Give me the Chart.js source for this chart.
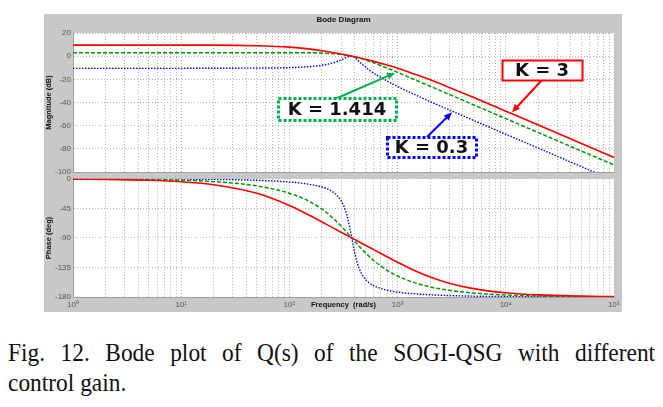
<!DOCTYPE html>
<html>
<head>
<meta charset="utf-8">
<script src="https://cdn.jsdelivr.net/npm/chart.js@4.4.1/dist/chart.umd.min.js"></script>
<style>
body{margin:0;background:#fff;width:663px;height:407px;overflow:hidden;}
#wrap{position:relative;width:663px;height:407px;}
#panel{position:absolute;left:44px;top:14px;width:578px;height:298px;background:#c8c8c8;}
#mag{position:absolute;left:0;top:0;}
#phase{position:absolute;left:0;top:172px;}
.cap{position:absolute;left:8px;width:719px;font-family:"Liberation Serif",serif;font-size:26px;line-height:30px;color:#111;transform:scaleX(0.9);transform-origin:left top;}
#cap1{top:338px;text-align:justify;text-align-last:justify;}
#cap2{top:368px;}
</style>
</head>
<body>
<div id="wrap">
  <div id="panel"></div>
  <canvas id="mag" width="663" height="180"></canvas>
  <canvas id="phase" width="663" height="146"></canvas>
  <div id="cap1" class="cap">Fig. 12. Bode plot of Q(s) of the SOGI-QSG with different</div>
  <div id="cap2" class="cap">control gain.</div>
</div>
<script>
// frequency (rad/s) and readings per control gain
const freq = [1, 2, 5, 10, 20, 50, 100, 150, 200, 250, 300, 320, 340, 360, 377, 395, 420, 440, 480, 540, 600, 800, 1000, 1500, 2000, 3000, 5000, 10000, 20000, 50000, 100000];

const gains = ["K = 3", "K = 1.414", "K = 0.3"];

const magK3 = [9.5, 9.5, 9.5, 9.5, 9.5, 9.0, 7.8, 6.3, 4.7, 3.2, 1.9, 1.4, 0.9, 0.4, 0, -0.4, -1.0, -1.4, -2.2, -3.4, -4.5, -7.7, -10.4, -16.1, -20.4, -27.0, -35.5, -47.5, -59.5, -75.4, -87.4];
const magK1414 = [3.0, 3.0, 3.0, 3.0, 3.0, 3.0, 3.0, 2.9, 2.7, 2.2, 1.5, 1.2, 0.8, 0.4, 0, -0.4, -1.0, -1.5, -2.6, -4.2, -5.7, -10.3, -14.0, -21.0, -26.0, -33.0, -41.9, -53.9, -66.0, -81.9, -93.9];
const magK03 = [-10.5, -10.5, -10.5, -10.5, -10.4, -10.3, -9.9, -9.1, -7.8, -5.9, -3.3, -2.0, -0.8, 0.0, 0.0, -0.8, -2.8, -4.5, -7.7, -11.6, -14.6, -21.5, -26.2, -33.9, -39.2, -46.4, -55.3, -67.4, -79.4, -95.4, -107.4];

const phK3 = [-0.5, -0.9, -2.3, -4.6, -9.1, -22.1, -40.6, -54.8, -65.7, -74.3, -81.3, -83.7, -86.1, -88.2, -90, -91.8, -94.1, -95.9, -99.2, -103.8, -107.8, -118.8, -127.2, -141.2, -149.6, -159.0, -167.2, -173.5, -176.8, -178.7, -179.4];
const phK1414 = [-0.2, -0.4, -1.1, -2.2, -4.3, -10.8, -22.0, -33.8, -46.2, -59.1, -72.0, -76.9, -81.7, -86.3, -90, -93.8, -98.7, -102.4, -109.0, -117.4, -124.3, -139.4, -148.1, -159.2, -164.6, -169.8, -173.9, -176.9, -178.5, -179.4, -179.7];
const phK03 = [-0.1, -0.1, -0.2, -0.5, -0.9, -2.3, -4.9, -8.1, -12.5, -19.6, -33.1, -42.3, -55.4, -72.9, -90, -107.3, -125.8, -136.0, -148.4, -157.8, -162.7, -169.7, -172.5, -175.4, -176.6, -177.8, -178.7, -179.4, -179.7, -179.9, -179.9];

const decades = [1, 10, 100, 1000, 10000, 100000];
const decadeLabels = ["10\u2070", "10\u00b9", "10\u00b2", "10\u00b3", "10\u2074", "10\u2075"];

const RED = "#ff0000", GREEN = "#009a00", BLUE = "#0000ff";
const FONT = "'Liberation Sans', Arial, sans-serif";

function series(vals, color, dash, width){
    return {
        data: freq.map((f, i) => ({x: f, y: vals[i]})),
        borderColor: color,
        borderWidth: width,
        borderDash: dash,
        pointRadius: 0,
        fill: false,
        cubicInterpolationMode: "monotone"
    };
}

function xAxis(showLabels){
    return {
        type: "logarithmic",
        min: 1,
        max: 100000,
        afterBuildTicks: s => {
            // keep 1..9 x 10^n only
            s.ticks = s.ticks.filter(t => {
                const m = t.value / Math.pow(10, Math.floor(Math.log10(t.value) + 1e-9));
                return Math.abs(m - Math.round(m)) < 1e-6;
            });
        },
        ticks: {
            display: showLabels,
            autoSkip: false,
            maxRotation: 0,
            padding: 3,
            color: "#555",
            font: {size: 8, family: FONT},
            callback: v => {
                const i = decades.findIndex(d => Math.abs(d - v) < 1e-6 * d);
                return i >= 0 ? decadeLabels[i] : "";
            }
        },
        grid: {color: "#b4b4b4", drawTicks: false},
        border: {color: "#a0a0a0", dash: [1, 2]},
        title: {
            display: showLabels,
            text: "Frequency  (rad/s)",
            color: "#111",
            font: {size: 7.5, weight: "bold", family: FONT},
            padding: {top: 0, bottom: 2.5}
        },
        afterFit: s => { s.height = showLabels ? 15 : 0; }
    };
}

function yAxis(min, max, step, title){
    return {
        min: min,
        max: max,
        ticks: {stepSize: step, padding: 2, color: "#555", font: {size: 8, family: FONT}},
        grid: {color: "#b4b4b4", drawTicks: false},
        border: {color: "#a0a0a0", dash: [1, 2]},
        title: {
            display: true,
            text: title,
            color: "#111",
            font: {size: 7.5, weight: "bold", family: FONT},
            padding: {top: 0, bottom: 0}
        },
        afterFit: s => { s.width = 29; }
    };
}

const plotBg = {
    id: "plotBg",
    beforeDraw(chart){
        const {ctx, chartArea: a} = chart;
        ctx.save();
        ctx.fillStyle = "#fff";
        ctx.fillRect(a.left, a.top, a.right - a.left, a.bottom - a.top);
        ctx.restore();
    }
};

function arrow(ctx, x1, y1, x2, y2, color){
    const ang = Math.atan2(y2 - y1, x2 - x1), L = 8, W = 3.5;
    ctx.setLineDash([]);
    ctx.strokeStyle = color;
    ctx.lineWidth = 2;
    ctx.beginPath();
    ctx.moveTo(x1, y1);
    ctx.lineTo(x2 - L * 0.7 * Math.cos(ang), y2 - L * 0.7 * Math.sin(ang));
    ctx.stroke();
    ctx.fillStyle = color;
    ctx.beginPath();
    ctx.moveTo(x2, y2);
    ctx.lineTo(x2 - L * Math.cos(ang) + W * Math.sin(ang), y2 - L * Math.sin(ang) - W * Math.cos(ang));
    ctx.lineTo(x2 - L * Math.cos(ang) - W * Math.sin(ang), y2 - L * Math.sin(ang) + W * Math.cos(ang));
    ctx.closePath();
    ctx.fill();
}

// boxed gain labels with arrows, placed in data units
const kLabels = {
    id: "kLabels",
    afterDraw(chart, args, opts){
        const {ctx, scales: {x, y}} = chart;
        ctx.save();
        opts.items.forEach(it => {
            const fx = x.getPixelForValue(it.from[0]), fy = y.getPixelForValue(it.from[1]);
            const tx = x.getPixelForValue(it.tip[0]), ty = y.getPixelForValue(it.tip[1]);
            arrow(ctx, fx, fy, tx, ty, it.arrowColor);
            const cx = x.getPixelForValue(it.at[0]), cy = y.getPixelForValue(it.at[1]);
            const l = Math.round(cx - it.w / 2) + 0.5, t = Math.round(cy - it.h / 2) + 0.5;
            ctx.fillStyle = "#fff";
            ctx.fillRect(l, t, it.w, it.h);
            ctx.setLineDash(it.dash);
            ctx.lineWidth = it.lw;
            ctx.strokeStyle = it.color;
            ctx.strokeRect(l, t, it.w, it.h);
            ctx.setLineDash([]);
            ctx.fillStyle = "#111";
            ctx.font = "bold 18px 'DejaVu Sans', sans-serif";
            ctx.textAlign = "center";
            ctx.textBaseline = "middle";
            ctx.fillText(it.text, cx, cy + 1);
        });
        ctx.restore();
    }
};

new Chart(document.getElementById("mag"), {
    type: "line",
    data: {
        datasets: [
            series(magK3, RED, [], 1.6),
            series(magK1414, GREEN, [4, 2], 1.5),
            series(magK03, BLUE, [1.5, 1.5], 1.4)
        ]
    },
    options: {
        responsive: false,
        animation: false,
        devicePixelRatio: 1,
        events: [],
        layout: {padding: {left: 44, right: 49, top: 14, bottom: 8}},
        scales: {
            x: xAxis(false),
            y: yAxis(-100, 20, 20, "Magnitude (dB)")
        },
        plugins: {
            legend: {display: false},
            tooltip: {enabled: false},
            title: {
                display: true,
                text: "Bode Diagram",
                fullSize: false,
                color: "#111",
                font: {size: 8, weight: "bold", family: FONT},
                padding: {top: 1, bottom: 8.4}
            },
            kLabels: {
                items: [
                    {text: gains[0], at: [21600, -11.9], w: 80, h: 20, color: RED, lw: 2, dash: [],
                     arrowColor: RED, from: [21600, -20.6], tip: [11400, -48.5]},
                    {text: gains[1], at: [275, -45.6], w: 118, h: 22, color: "#00b050", lw: 3, dash: [3, 2],
                     arrowColor: "#00b050", from: [264, -37.0], tip: [946, -14.5]},
                    {text: gains[2], at: [2057, -78.4], w: 89, h: 20, color: BLUE, lw: 3, dash: [3, 2],
                     arrowColor: BLUE, from: [1869, -69.8], tip: [3183, -48.5]}
                ]
            }
        }
    },
    plugins: [plotBg, kLabels]
});

new Chart(document.getElementById("phase"), {
    type: "line",
    data: {
        datasets: [
            series(phK3, RED, [], 1.6),
            series(phK1414, GREEN, [4, 2], 1.5),
            series(phK03, BLUE, [1.5, 1.5], 1.4)
        ]
    },
    options: {
        responsive: false,
        animation: false,
        devicePixelRatio: 1,
        events: [],
        layout: {padding: {left: 44, right: 49, top: 5, bottom: 6}},
        scales: {
            x: xAxis(true),
            y: yAxis(-180, 0, 45, "Phase (deg)")
        },
        plugins: {
            legend: {display: false},
            tooltip: {enabled: false}
        }
    },
    plugins: [plotBg]
});
</script>
</body>
</html>
